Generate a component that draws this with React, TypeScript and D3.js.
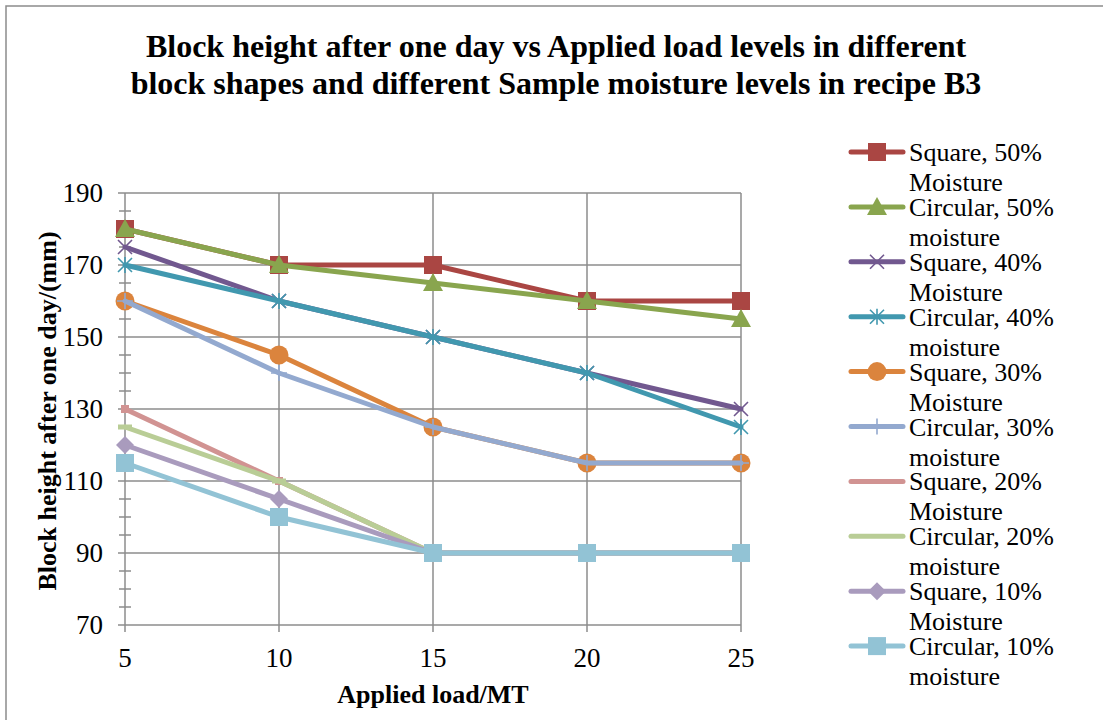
import React, { useEffect, useRef } from "react";
import * as d3 from "d3";

const loads = [5, 10, 15, 20, 25];
const yTicks = [70, 90, 110, 130, 150, 170, 190];

const seriesNames = [
  ["Square, 50%", "Moisture"],
  ["Circular, 50%", "moisture"],
  ["Square, 40%", "Moisture"],
  ["Circular, 40%", "moisture"],
  ["Square, 30%", "Moisture"],
  ["Circular, 30%", "moisture"],
  ["Square, 20%", "Moisture"],
  ["Circular, 20%", "moisture"],
  ["Square, 10%", "Moisture"],
  ["Circular, 10%", "moisture"],
];

const square50 = [180, 170, 170, 160, 160];
const circular50 = [180, 170, 165, 160, 155];
const square40 = [175, 160, 150, 140, 130];
const circular40 = [170, 160, 150, 140, 125];
const square30 = [160, 145, 125, 115, 115];
const circular30 = [160, 140, 125, 115, 115];
const square20 = [130, 110, 90, 90, 90];
const circular20 = [125, 110, 90, 90, 90];
const square10 = [120, 105, 90, 90, 90];
const circular10 = [115, 100, 90, 90, 90];

const seriesValues = [
  square50, circular50, square40, circular40, square30,
  circular30, square20, circular20, square10, circular10,
];

const colors = [
  "#AA4643", "#89A54E", "#71588F", "#4198AF", "#DB843D",
  "#93A9CF", "#D19392", "#B9CD96", "#A99BBD", "#92C3D5",
];
const markers = ["square", "triangle", "x", "star", "circle", "plus", "smallsquare", "dash", "diamond", "square"];

const FONT = "'Liberation Serif', 'Times New Roman', serif";

function drawMarker(g: any, type: string, x: number, y: number, color: string) {
  if (type === "square") {
    g.append("rect").attr("x", x - 9).attr("y", y - 9).attr("width", 18).attr("height", 18).attr("fill", color);
  } else if (type === "smallsquare") {
    g.append("rect").attr("x", x - 4).attr("y", y - 4).attr("width", 8).attr("height", 8).attr("fill", color);
  } else if (type === "triangle") {
    g.append("path").attr("d", `M${x},${y - 10}L${x + 10},${y + 8}L${x - 10},${y + 8}Z`).attr("fill", color);
  } else if (type === "circle") {
    g.append("circle").attr("cx", x).attr("cy", y).attr("r", 9.5).attr("fill", color);
  } else if (type === "diamond") {
    g.append("path").attr("d", `M${x},${y - 9}L${x + 9},${y}L${x},${y + 9}L${x - 9},${y}Z`).attr("fill", color);
  } else if (type === "dash") {
    g.append("rect").attr("x", x - 7).attr("y", y - 2.5).attr("width", 14).attr("height", 5).attr("fill", color);
  } else {
    const s = 7;
    let d = "";
    if (type === "x" || type === "star") d += `M${x - s},${y - s}L${x + s},${y + s}M${x - s},${y + s}L${x + s},${y - s}`;
    if (type === "star" || type === "plus") d += `M${x},${y - s - 1}L${x},${y + s + 1}`;
    if (type === "plus") d += `M${x - s - 1},${y}L${x + s + 1},${y}`;
    g.append("path").attr("d", d).attr("stroke", color).attr("stroke-width", 1.6).attr("fill", "none");
  }
}

export default function App() {
  const ref = useRef<SVGSVGElement>(null);

  useEffect(() => {
    document.body.style.margin = "0";
    const svg = d3.select(ref.current);
    svg.selectAll("*").remove();

    const x = d3.scaleLinear().domain([5, 25]).range([125, 741]);
    const y = d3.scaleLinear().domain([70, 190]).range([625, 193]);

    svg.append("rect").attr("width", 1103).attr("height", 720).attr("fill", "#fff");
    svg.append("rect").attr("x", 6).attr("y", 6).attr("width", 1110).attr("height", 730)
      .attr("fill", "none").attr("stroke", "#8c8c8c").attr("stroke-width", 1.5);

    // title
    const title = svg.append("text").attr("text-anchor", "middle").attr("font-family", FONT)
      .attr("font-weight", "bold").attr("font-size", 32).attr("fill", "#000");
    title.append("tspan").attr("x", 556).attr("y", 57).text("Block height after one day vs Applied load levels in different");
    title.append("tspan").attr("x", 556).attr("y", 94).text("block shapes and different Sample moisture levels in recipe B3");

    const grid = svg.append("g").attr("stroke", "#8c8c8c").attr("stroke-width", 1.5);
    yTicks.forEach((t) => {
      grid.append("line").attr("x1", 118).attr("x2", x(25)).attr("y1", y(t)).attr("y2", y(t));
    });
    loads.forEach((l) => {
      grid.append("line").attr("x1", x(l)).attr("x2", x(l)).attr("y1", y(190)).attr("y2", y(70) + 7);
    });
    // minor ticks on y axis
    d3.range(70, 190, 5).filter((v) => v % 20 !== 10).forEach((v) => {
      grid.append("line").attr("x1", 119).attr("x2", 131).attr("y1", y(v)).attr("y2", y(v));
    });

    // tick labels
    svg.append("g").selectAll("text").data(yTicks).join("text")
      .attr("x", 103).attr("y", (d) => y(d) + 9).attr("text-anchor", "end")
      .attr("font-family", FONT).attr("font-size", 27).text((d) => d);
    svg.append("g").selectAll("text").data(loads).join("text")
      .attr("x", (d) => x(d)).attr("y", 667).attr("text-anchor", "middle")
      .attr("font-family", FONT).attr("font-size", 27).text((d) => d);

    // axis titles
    svg.append("text").attr("x", 433).attr("y", 703).attr("text-anchor", "middle")
      .attr("font-family", FONT).attr("font-weight", "bold").attr("font-size", 26).text("Applied load/MT");
    svg.append("text").attr("transform", "translate(56,411) rotate(-90)").attr("text-anchor", "middle")
      .attr("font-family", FONT).attr("font-weight", "bold").attr("font-size", 26).text("Block height after one day/(mm)");

    // series
    const line = d3.line<number>().x((_, i) => x(loads[i])).y((d) => y(d));
    seriesValues.forEach((vals, si) => {
      const g = svg.append("g");
      g.append("path").attr("d", line(vals)).attr("fill", "none").attr("stroke", colors[si])
        .attr("stroke-width", 5).attr("stroke-linejoin", "round").attr("stroke-linecap", "round");
      vals.forEach((v, i) => drawMarker(g, markers[si], x(loads[i]), y(v), colors[si]));
    });

    // legend
    seriesNames.forEach((name, i) => {
      const ly = 152 + i * 54.9;
      const g = svg.append("g");
      g.append("line").attr("x1", 851).attr("x2", 903).attr("y1", ly).attr("y2", ly)
        .attr("stroke", colors[i]).attr("stroke-width", 5).attr("stroke-linecap", "round");
      if (markers[i] !== "smallsquare" && markers[i] !== "dash") drawMarker(g, markers[i], 877, ly, colors[i]);
      const t = g.append("text").attr("font-family", FONT).attr("font-size", 26).attr("fill", "#000");
      t.append("tspan").attr("x", 909).attr("y", ly + 9).text(name[0]);
      t.append("tspan").attr("x", 909).attr("y", ly + 39).text(name[1]);
    });
  }, []);

  return <svg ref={ref} width={1103} height={720} style={{ display: "block" }} />;
}
